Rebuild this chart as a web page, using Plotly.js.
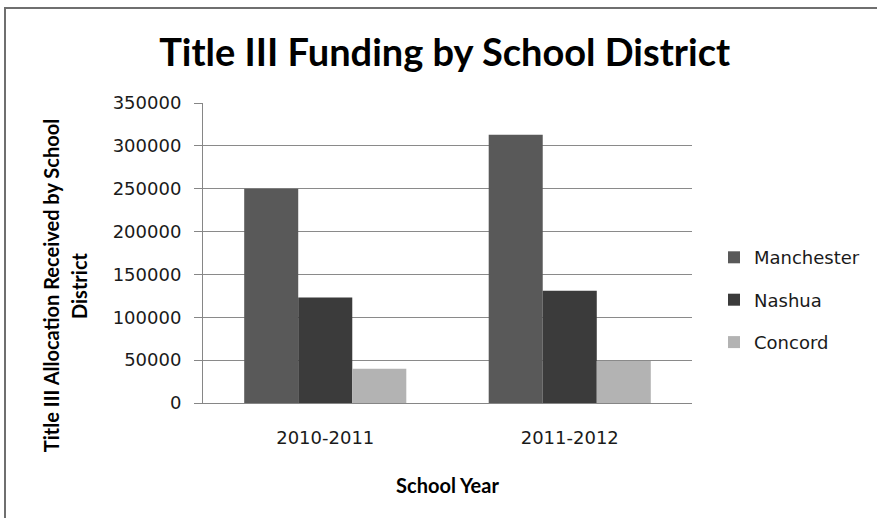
<!DOCTYPE html>
<html>
<head>
<meta charset="utf-8">
<script src="https://cdn.plot.ly/plotly-3.0.1.min.js"></script>
<style>
  html, body { margin: 0; padding: 0; background: #fff; }
  #wrap { position: relative; width: 877px; height: 518px; }
  #chart { position: absolute; left: 0; top: 0; width: 877px; height: 518px; }
  #frame { position: absolute; left: 4px; top: 7px; width: 873px; height: 511px;
           border-top: 2px solid #6f6f6f; border-left: 2px solid #6f6f6f;
           box-sizing: border-box; pointer-events: none; }
</style>
</head>
<body>
<div id="wrap">
  <div id="chart"></div>
  <div id="frame"></div>
</div>
<script>
const schoolYears = ["2010-2011", "2011-2012"];
const districts = ["Manchester", "Nashua", "Concord"];
const manchester = [250000, 313000];
const nashua = [123000, 131000];
const concord = [40000, 49000];
const yTickValues = [0, 50000, 100000, 150000, 200000, 250000, 300000, 350000];
const yTickLabels = ["0", "50000", "100000", "150000", "200000", "250000", "300000", "350000"];

const seriesValues = [manchester, nashua, concord];
const seriesColors = ["#595959", "#3b3b3b", "#b3b3b3"];

const labelFont = { family: "DejaVu Sans", size: 18, color: "#1a1a1a" };
const boldFont = { family: "Lato", size: 20, color: "#000", weight: "bold" };

const traces = districts.map((name, i) => ({
  type: "bar",
  name: name,
  x: schoolYears,
  y: seriesValues[i],
  legendgroup: name,
  marker: { color: seriesColors[i], line: { width: 0 } },
  hoverinfo: "x+y+name"
}));

const layout = {
  width: 877,
  height: 518,
  paper_bgcolor: "#ffffff",
  plot_bgcolor: "#ffffff",
  margin: { l: 203, r: 181, t: 103, b: 115 },
  barmode: "group",
  bargap: 0.337,
  bargroupgap: 0,
  title: {
    text: "Title III Funding by School District",
    font: { family: "Lato", size: 38, color: "#000", weight: "bold" },
    x: 0.507, xref: "container", xanchor: "center",
    y: 0.898, yref: "container", yanchor: "middle"
  },
  xaxis: {
    type: "category",
    showline: true, linecolor: "#868686", linewidth: 1,
    ticks: "", showgrid: false, zeroline: false,
    tickfont: labelFont,
    ticklabelstandoff: 18,
    title: { text: "School Year", font: boldFont, standoff: 32 },
    automargin: false
  },
  yaxis: {
    range: [0, 350000],
    tickvals: yTickValues,
    ticktext: yTickLabels,
    showline: true, linecolor: "#868686", linewidth: 1,
    ticks: "outside", ticklen: 8, tickcolor: "#868686",
    ticklabelstandoff: 9,
    showgrid: true, gridcolor: "#8a8a8a", gridwidth: 1,
    zeroline: false,
    tickfont: labelFont,
    automargin: false
  },
  legend: {
    x: 1.045, xanchor: "left",
    y: 0.343, yanchor: "middle",
    font: { family: "DejaVu Sans", size: 18, color: "#1a1a1a" },
    tracegroupgap: 16,
    itemwidth: 30,
    bgcolor: "rgba(0,0,0,0)"
  },
  annotations: [
    {
      text: "Title III Allocation Received by School",
      xref: "paper", yref: "paper",
      x: (50 - 203) / 493, y: (403 - 286) / 300,
      xanchor: "center", yanchor: "middle",
      textangle: -90, showarrow: false,
      font: boldFont
    },
    {
      text: "District",
      xref: "paper", yref: "paper",
      x: (78 - 203) / 493, y: (403 - 286) / 300,
      xanchor: "center", yanchor: "middle",
      textangle: -90, showarrow: false,
      font: boldFont
    }
  ]
};

Plotly.newPlot("chart", traces, layout, { displayModeBar: false, staticPlot: true });
</script>
</body>
</html>
